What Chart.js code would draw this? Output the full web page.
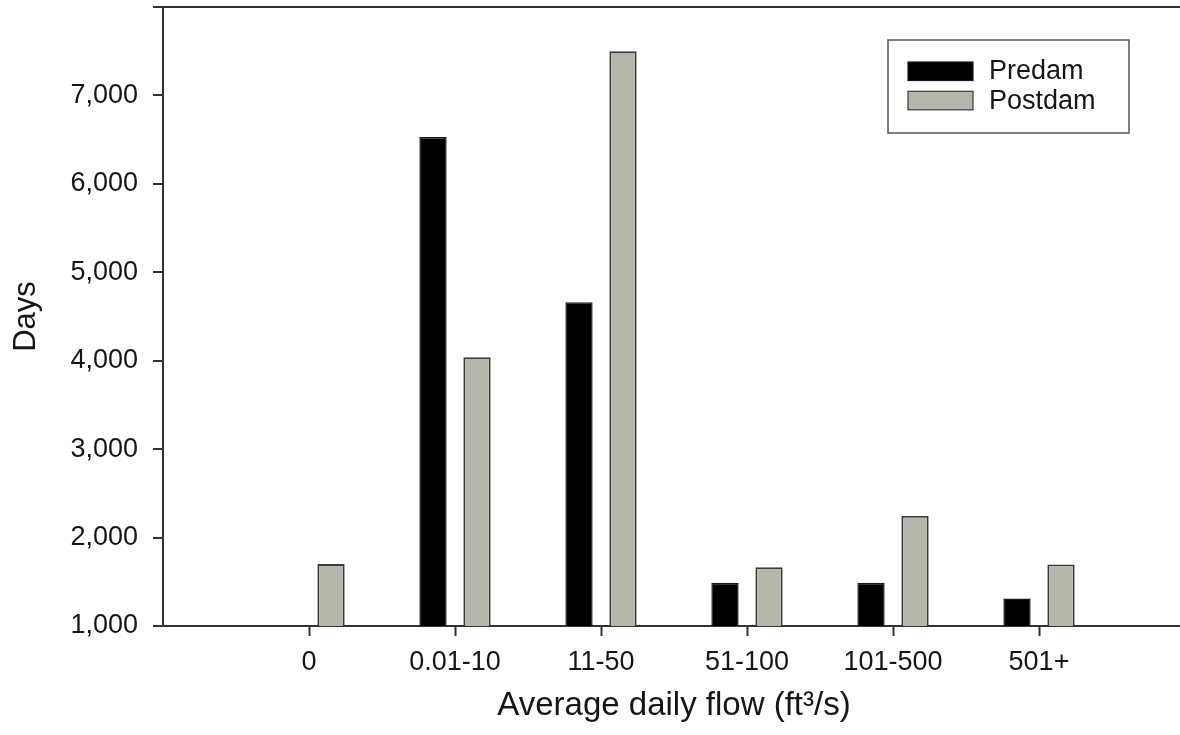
<!DOCTYPE html>
<html>
<head>
<meta charset="utf-8">
<script src="https://cdn.jsdelivr.net/npm/chart.js@4/dist/chart.umd.min.js"></script>
<style>
  html, body { margin: 0; padding: 0; background: #fff; overflow: hidden; }
  #wrap { position: relative; width: 1190px; height: 735px; }
</style>
</head>
<body>
<div id="wrap"><canvas id="chart"></canvas></div>
<script>
// Flow classes (ft³/s) and number of days in each class
const categories = ['0', '0.01-10', '11-50', '51-100', '101-500', '501+'];
const predam = [null, 6530, 4660, 1490, 1490, 1310];
const postdam = [1700, 4040, 7500, 1665, 2245, 1695];
const yTickValues = [1000, 2000, 3000, 4000, 5000, 6000, 7000, 8000];

const fontFamily = '"Liberation Sans", Arial, Helvetica, sans-serif';
const axisColor = '#333333';
const textColor = '#161616';

// bars sit on a numeric axis: class i is centred on x = i + 1
const toPoints = vals => vals.map((v, i) => ({ x: i + 1, y: v }));

// boxed legend drawn inside the plot, top right
const legendBox = {
  id: 'legendBox',
  afterDraw(chart) {
    const { ctx, chartArea } = chart;
    const x0 = chartArea.right - 297;
    const y0 = chartArea.top + 33;
    ctx.save();
    ctx.strokeStyle = '#555555';
    ctx.lineWidth = 1.5;
    ctx.strokeRect(x0, y0, 241, 93);
    chart.data.datasets.forEach((ds, i) => {
      const sy = y0 + 22 + i * 29.3;
      ctx.fillStyle = ds.backgroundColor;
      ctx.fillRect(x0 + 20, sy, 65, 18.5);
      ctx.strokeStyle = ds.borderColor;
      ctx.lineWidth = 1.2;
      ctx.strokeRect(x0 + 20, sy, 65, 18.5);
      ctx.fillStyle = textColor;
      ctx.font = '27px ' + fontFamily;
      ctx.textAlign = 'left';
      ctx.textBaseline = 'middle';
      ctx.fillText(ds.label, x0 + 101, sy + 10);
    });
    ctx.restore();
  }
};

new Chart(document.getElementById('chart'), {
  type: 'bar',
  data: {
    datasets: [
      { label: 'Predam', data: toPoints(predam), backgroundColor: '#000000', borderColor: '#1a1a1a', borderWidth: 1.5 },
      { label: 'Postdam', data: toPoints(postdam), backgroundColor: '#b6b6aa', borderColor: '#3a3a3a', borderWidth: 1.8 }
    ]
  },
  options: {
    responsive: true,
    maintainAspectRatio: false,
    animation: false,
    layout: { padding: { top: 7, left: 0, right: 5, bottom: 0 } },
    datasets: { bar: { categoryPercentage: 0.603, barPercentage: 0.62 } },
    plugins: { legend: { display: false }, tooltip: { enabled: false } },
    scales: {
      x: {
        type: 'linear',
        min: 0,
        max: 7,
        offset: false,
        afterBuildTicks: s => { s.ticks = categories.map((_, i) => ({ value: i + 1 })); },
        afterFit: s => { s.height = 109; s.paddingLeft = 0; s.paddingRight = 0; },
        ticks: {
          callback: v => categories[v - 1] ?? '',
          font: { family: fontFamily, size: 27 },
          color: textColor,
          padding: 10,
          maxRotation: 0,
          autoSkip: false
        },
        grid: { offset: false, drawOnChartArea: false, drawTicks: true, tickLength: 10, tickColor: axisColor, tickWidth: 2 },
        border: { display: true, color: axisColor, width: 2 },
        title: {
          display: true,
          text: 'Average daily flow (ft³/s)',
          font: { family: fontFamily, size: 33 },
          color: textColor,
          padding: { top: 0, bottom: 9 }
        }
      },
      y: {
        min: 1000,
        max: 8000,
        afterBuildTicks: s => { s.ticks = yTickValues.map(v => ({ value: v })); },
        afterFit: s => { s.width = 163; s.paddingTop = 0; s.paddingBottom = 0; },
        ticks: {
          callback: v => (v === 8000 ? '' : v.toLocaleString('en-US')),
          font: { family: fontFamily, size: 27 },
          color: textColor,
          padding: 15
        },
        grid: {
          drawOnChartArea: true,
          color: c => (c.tick && c.tick.value === 8000 ? axisColor : 'rgba(0,0,0,0)'),
          lineWidth: 2,
          drawTicks: true,
          tickLength: 10,
          tickColor: axisColor,
          tickWidth: 2
        },
        border: { display: true, color: axisColor, width: 2 },
        title: {
          display: true,
          text: 'Days',
          font: { family: fontFamily, size: 31 },
          color: textColor,
          padding: { top: 8, bottom: 0 }
        }
      }
    }
  },
  plugins: [legendBox]
});
</script>
</body>
</html>
